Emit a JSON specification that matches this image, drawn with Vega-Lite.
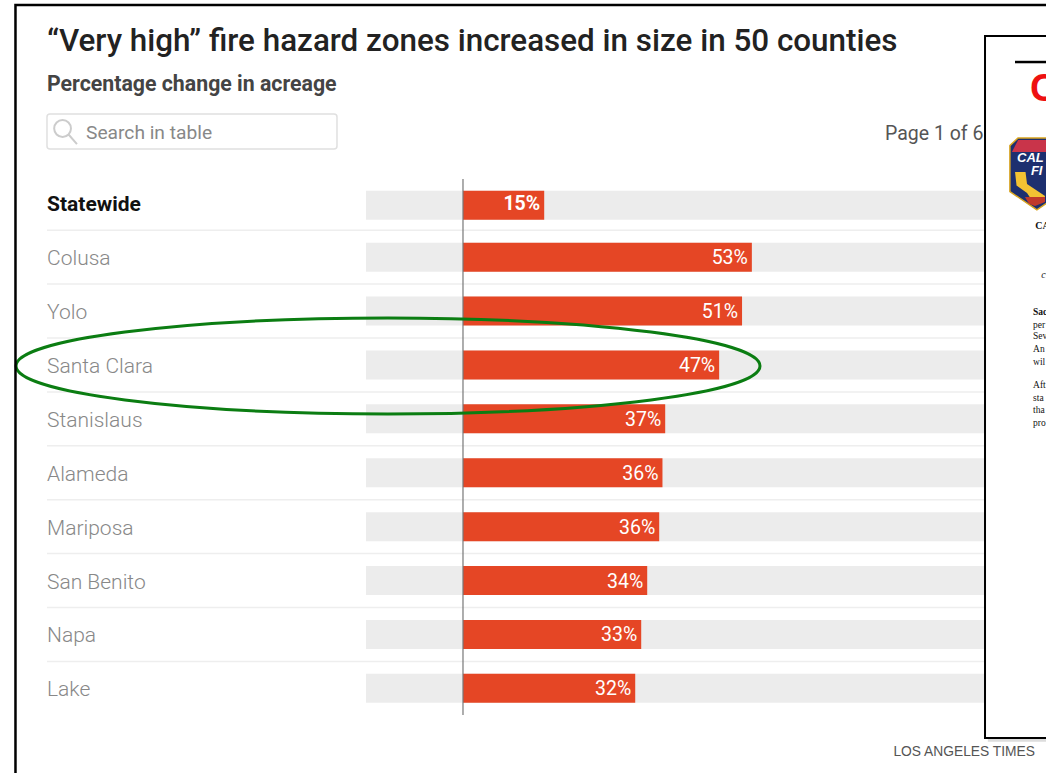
{"$schema":"https://vega.github.io/schema/vega-lite/v6.json","width":1046,"height":539,"autosize":{"type":"none"},"padding":{"left":0,"top":176.3,"right":0,"bottom":57.7},"background":"white","config":{"view":{"stroke":null},"axisQuantitative":{"disable":true}},"datasets":{"counties":[{"county":"Statewide","pct":14.9,"label":"15%"},{"county":"Colusa","pct":53,"label":"53%"},{"county":"Yolo","pct":51.2,"label":"51%"},{"county":"Santa Clara","pct":47,"label":"47%"},{"county":"Stanislaus","pct":37.1,"label":"37%"},{"county":"Alameda","pct":36.6,"label":"36%"},{"county":"Mariposa","pct":36,"label":"36%"},{"county":"San Benito","pct":33.8,"label":"34%"},{"county":"Napa","pct":32.7,"label":"33%"},{"county":"Lake","pct":31.6,"label":"32%"}]},"resolve":{"scale":{"y":"independent"},"axis":{"y":"independent"}},"layer":[{"data":{"name":"counties"},"encoding":{"y":{"field":"county","type":"nominal","sort":null,"scale":{"domain":["Statewide","Colusa","Yolo","Santa Clara","Stanislaus","Alameda","Mariposa","San Benito","Napa","Lake"],"paddingInner":0,"paddingOuter":0},"axis":{"title":null,"ticks":false,"domain":false,"grid":false,"labelAlign":"left","labelPadding":-46.5,"labelOffset":2,"labelLimit":400,"labelFont":"Roboto","labelFontSize":{"condition":{"test":"datum.value==='Statewide'","value":21},"value":21},"labelFontWeight":{"condition":{"test":"datum.value==='Statewide'","value":"bold"},"value":300},"labelColor":{"condition":{"test":"datum.value==='Statewide'","value":"#111111"},"value":"#888888"}}}},"layer":[{"mark":{"type":"bar","orient":"horizontal","size":29,"color":"#ececec","yOffset":{"expr":"datum.county==='Statewide'?2:0"}},"encoding":{"x":{"datum":-17.8,"type":"quantitative","scale":{"domain":[-84.95,106.97],"nice":false,"zero":false},"axis":null},"x2":{"datum":106.97}}},{"transform":[{"filter":"datum.county!=='Lake'"}],"mark":{"type":"rule","color":"#eeeeee","strokeWidth":1.5},"encoding":{"y":{"field":"county","type":"nominal","sort":null,"bandPosition":1},"x":{"datum":-76.33,"type":"quantitative"},"x2":{"datum":106.97}}},{"mark":{"type":"bar","orient":"horizontal","size":29,"color":"#e54625","yOffset":{"expr":"datum.county==='Statewide'?2:0"}},"encoding":{"x":{"field":"pct","type":"quantitative"},"x2":{"datum":0}}},{"mark":{"type":"text","align":"right","baseline":"middle","dx":-4,"dy":1,"font":"Roboto","fontSize":19.5,"color":"white","fontWeight":{"expr":"datum.county==='Statewide'?'bold':'normal'"}},"encoding":{"x":{"field":"pct","type":"quantitative"},"text":{"field":"label"}}}]},{"encoding":{"y":{"type":"quantitative","scale":{"domain":[0,10],"range":[0,539],"nice":false,"zero":false},"axis":null}},"layer":[{"data":{"values":[{"item":"zero line"}]},"mark":{"type":"rule","color":"#777777","strokeWidth":1.2},"encoding":{"x":{"datum":0,"type":"quantitative"},"y":{"datum":0.05,"type":"quantitative","scale":{"domain":[0,10],"range":[0,539],"nice":false,"zero":false},"axis":null},"y2":{"datum":9.994}}},{"data":{"values":[{"t":"“Very high” fire hazard zones increased in size in 50 counties"}]},"mark":{"type":"text","align":"left","baseline":"middle","font":"Roboto","fontSize":31.4,"fontWeight":500,"color":"#222222"},"encoding":{"x":{"datum":-76.33,"type":"quantitative"},"y":{"datum":-2.49,"type":"quantitative"},"text":{"field":"t"}}},{"data":{"values":[{"t":"Percentage change in acreage"}]},"mark":{"type":"text","align":"left","baseline":"middle","font":"Roboto","fontSize":21.3,"fontWeight":"bold","color":"#444444"},"encoding":{"x":{"datum":-76.33,"type":"quantitative"},"y":{"datum":-1.693,"type":"quantitative"},"text":{"field":"t"}}},{"data":{"values":[{"item":"search box"}]},"mark":{"type":"rect","fill":"white","stroke":"#e0e0e0","strokeWidth":1.5,"cornerRadius":3},"encoding":{"x":{"datum":-76.33,"type":"quantitative"},"x2":{"datum":-23.12},"y":{"datum":-1.156,"type":"quantitative"},"y2":{"datum":-0.506}}},{"data":{"values":[{"item":"search icon"}]},"mark":{"type":"point","shape":"M-0.9,-0.3A0.7,0.7 0 1,1 0.5,-0.3A0.7,0.7 0 1,1 -0.9,-0.3M0.3,0.2L1,1","size":576,"filled":false,"stroke":"#cccccc","strokeWidth":2,"opacity":1},"encoding":{"x":{"datum":-73.03,"type":"quantitative"},"y":{"datum":-0.82,"type":"quantitative"}}},{"data":{"values":[{"t":"Search in table"}]},"mark":{"type":"text","align":"left","baseline":"middle","font":"Roboto","fontSize":19.2,"color":"#888888"},"encoding":{"x":{"datum":-69.17,"type":"quantitative"},"y":{"datum":-0.81,"type":"quantitative"},"text":{"field":"t"}}},{"data":{"values":[{"t":"Page 1 of 6"}]},"mark":{"type":"text","align":"left","baseline":"middle","font":"Roboto","fontSize":19.5,"color":"#555555"},"encoding":{"x":{"datum":77.43,"type":"quantitative"},"y":{"datum":-0.79,"type":"quantitative"},"text":{"field":"t"}}},{"data":{"values":[{"t":"LOS ANGELES TIMES"}]},"mark":{"type":"text","align":"right","baseline":"middle","font":"Liberation Sans","fontSize":13.8,"color":"#555555"},"encoding":{"x":{"datum":104.95,"type":"quantitative"},"y":{"datum":10.68,"type":"quantitative"},"text":{"field":"t"}}},{"data":{"values":[{"item":"highlight"}]},"mark":{"type":"point","shape":"M-1,0A1,0.129 0 1,1 1,0A1,0.129 0 1,1 -1,0Z","size":553536,"filled":false,"stroke":"#0b7d12","strokeWidth":3,"opacity":1},"encoding":{"x":{"datum":-13.76,"type":"quantitative"},"y":{"datum":3.52,"type":"quantitative"}}},{"data":{"values":[{"item":"panel shadow"}]},"mark":{"type":"rect","fill":"#bbbbbb","opacity":0.5},"encoding":{"x":{"datum":96.3,"type":"quantitative"},"x2":{"datum":106.97},"y":{"datum":10.4,"type":"quantitative"},"y2":{"datum":10.49}}},{"data":{"values":[{"item":"document panel"}]},"mark":{"type":"rect","fill":"white","stroke":"black","strokeWidth":2},"encoding":{"x":{"datum":95.78,"type":"quantitative"},"x2":{"datum":109.5},"y":{"datum":-2.603,"type":"quantitative"},"y2":{"datum":10.42}}},{"data":{"values":[{"item":"document rule"}]},"mark":{"type":"rule","color":"black","strokeWidth":2.5},"encoding":{"x":{"datum":101.28,"type":"quantitative"},"x2":{"datum":106.97},"y":{"datum":-2.12,"type":"quantitative"}}},{"data":{"values":[{"t":"C"}]},"mark":{"type":"text","align":"left","baseline":"middle","font":"Liberation Sans","fontSize":38,"fontWeight":"bold","color":"#ee1111"},"encoding":{"x":{"datum":104.04,"type":"quantitative"},"y":{"datum":-1.6,"type":"quantitative"},"text":{"field":"t"}}},{"data":{"values":[{"item":"shield"}]},"mark":{"type":"point","shape":"M-1,-1.05L-0.7,-1.33L0.7,-1.33L1,-1.05L1,0.65L0,1.33L-1,0.65Z","size":2916,"filled":true,"fill":"#1d2f6f","stroke":"#d9a520","strokeWidth":1.5,"opacity":1},"encoding":{"x":{"datum":105.3,"type":"quantitative"},"y":{"datum":-0.043,"type":"quantitative"}}},{"data":{"values":[{"item":"shield banner"}]},"mark":{"type":"point","shape":"M-1,0.24L-0.75,-0.24L0.75,-0.24L1,0.24Z","size":2500,"filled":true,"fill":"#c9344a","opacity":1},"encoding":{"x":{"datum":105.3,"type":"quantitative"},"y":{"datum":-0.562,"type":"quantitative"}}},{"data":{"values":[{"item":"shield map"}]},"mark":{"type":"point","shape":"M-1,-1L-0.3,-1L-0.2,-0.2L1,0.6L0.9,1L0.2,1L-0.2,0.4L-0.9,-0.1Z","size":900,"filled":true,"fill":"#f3c233","opacity":1},"encoding":{"x":{"datum":104.04,"type":"quantitative"},"y":{"datum":0.2,"type":"quantitative"}}},{"data":{"values":[{"item":"shield base"}]},"mark":{"type":"point","shape":"M-1,-0.4L1,-0.4L1,0.1L0,0.5L-0.6,0.3Z","size":400,"filled":true,"fill":"#c0392b","opacity":1},"encoding":{"x":{"datum":104.95,"type":"quantitative"},"y":{"datum":0.458,"type":"quantitative"}}},{"data":{"values":[{"t":"CAL"}]},"mark":{"type":"text","align":"left","baseline":"middle","font":"Liberation Sans","fontSize":13,"fontWeight":"bold","fontStyle":"italic","color":"white"},"encoding":{"x":{"datum":101.65,"type":"quantitative"},"y":{"datum":-0.34,"type":"quantitative"},"text":{"field":"t"}}},{"data":{"values":[{"t":"FI"}]},"mark":{"type":"text","align":"left","baseline":"middle","font":"Liberation Sans","fontSize":13,"fontWeight":"bold","fontStyle":"italic","color":"white"},"encoding":{"x":{"datum":104.2,"type":"quantitative"},"y":{"datum":-0.09,"type":"quantitative"},"text":{"field":"t"}}},{"data":{"values":[{"t":"CA"}]},"mark":{"type":"text","align":"left","baseline":"middle","font":"Liberation Serif","fontSize":10,"fontWeight":"bold","color":"#111111"},"encoding":{"x":{"datum":105,"type":"quantitative"},"y":{"datum":0.922,"type":"quantitative"},"text":{"field":"t"}}},{"data":{"values":[{"t":"c"}]},"mark":{"type":"text","align":"left","baseline":"middle","font":"Liberation Serif","fontSize":10,"fontStyle":"italic","color":"#111111"},"encoding":{"x":{"datum":106.1,"type":"quantitative"},"y":{"datum":1.831,"type":"quantitative"},"text":{"field":"t"}}},{"data":{"values":[{"t":"Sac"}]},"mark":{"type":"text","align":"left","baseline":"middle","font":"Liberation Serif","fontSize":9.5,"fontWeight":"bold","color":"#111111"},"encoding":{"x":{"datum":104.6,"type":"quantitative"},"y":{"datum":2.518,"type":"quantitative"},"text":{"field":"t"}}},{"data":{"values":[{"t":"per"}]},"mark":{"type":"text","align":"left","baseline":"middle","font":"Liberation Serif","fontSize":9.5,"color":"#111111"},"encoding":{"x":{"datum":104.6,"type":"quantitative"},"y":{"datum":2.759,"type":"quantitative"},"text":{"field":"t"}}},{"data":{"values":[{"t":"Sev"}]},"mark":{"type":"text","align":"left","baseline":"middle","font":"Liberation Serif","fontSize":9.5,"color":"#111111"},"encoding":{"x":{"datum":104.6,"type":"quantitative"},"y":{"datum":2.963,"type":"quantitative"},"text":{"field":"t"}}},{"data":{"values":[{"t":"An"}]},"mark":{"type":"text","align":"left","baseline":"middle","font":"Liberation Serif","fontSize":9.5,"color":"#111111"},"encoding":{"x":{"datum":104.6,"type":"quantitative"},"y":{"datum":3.204,"type":"quantitative"},"text":{"field":"t"}}},{"data":{"values":[{"t":"wil"}]},"mark":{"type":"text","align":"left","baseline":"middle","font":"Liberation Serif","fontSize":9.5,"color":"#111111"},"encoding":{"x":{"datum":104.6,"type":"quantitative"},"y":{"datum":3.445,"type":"quantitative"},"text":{"field":"t"}}},{"data":{"values":[{"t":"Aft"}]},"mark":{"type":"text","align":"left","baseline":"middle","font":"Liberation Serif","fontSize":9.5,"color":"#111111"},"encoding":{"x":{"datum":104.6,"type":"quantitative"},"y":{"datum":3.872,"type":"quantitative"},"text":{"field":"t"}}},{"data":{"values":[{"t":"sta"}]},"mark":{"type":"text","align":"left","baseline":"middle","font":"Liberation Serif","fontSize":9.5,"color":"#111111"},"encoding":{"x":{"datum":104.6,"type":"quantitative"},"y":{"datum":4.113,"type":"quantitative"},"text":{"field":"t"}}},{"data":{"values":[{"t":"tha"}]},"mark":{"type":"text","align":"left","baseline":"middle","font":"Liberation Serif","fontSize":9.5,"color":"#111111"},"encoding":{"x":{"datum":104.6,"type":"quantitative"},"y":{"datum":4.336,"type":"quantitative"},"text":{"field":"t"}}},{"data":{"values":[{"t":"pro"}]},"mark":{"type":"text","align":"left","baseline":"middle","font":"Liberation Serif","fontSize":9.5,"color":"#111111"},"encoding":{"x":{"datum":104.6,"type":"quantitative"},"y":{"datum":4.577,"type":"quantitative"},"text":{"field":"t"}}},{"data":{"values":[{"item":"outer frame"}]},"mark":{"type":"rect","fill":null,"filled":false,"stroke":"black","strokeWidth":2.5},"encoding":{"x":{"datum":-82.11,"type":"quantitative"},"x2":{"datum":109.5},"y":{"datum":-3.178,"type":"quantitative"},"y2":{"datum":11.57}}}]}]}
